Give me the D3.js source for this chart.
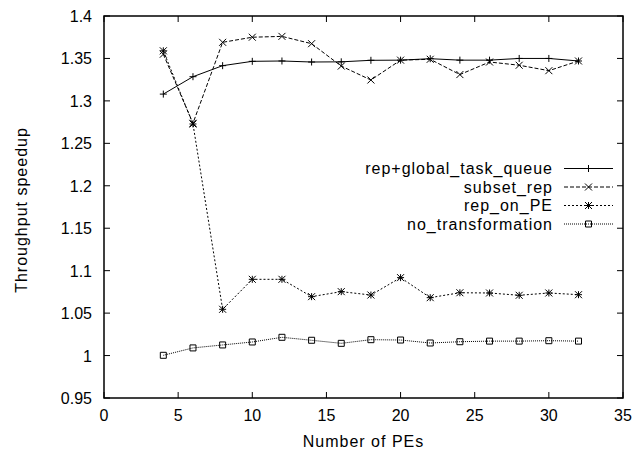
<!DOCTYPE html>
<html>
<head>
<meta charset="utf-8">
<title>Throughput speedup</title>
<script src="https://d3js.org/d3.v7.min.js"></script>
<style>
  body { margin: 0; background: #fff; }
  text { font-family: "Liberation Sans", Arial, sans-serif; fill: #000; font-size: 16px; }
  .word { letter-spacing: 1px; }
</style>
</head>
<body>
<script>
// data
var pes = [4, 6, 8, 10, 12, 14, 16, 18, 20, 22, 24, 26, 28, 30, 32];
var repGlobal = [1.308, 1.3285, 1.3415, 1.3466, 1.347, 1.3458, 1.346, 1.3478, 1.348, 1.3497, 1.348, 1.348, 1.350, 1.350, 1.347];
var subsetRep = [1.355, 1.2736, 1.369, 1.375, 1.376, 1.3674, 1.341, 1.3246, 1.348, 1.349, 1.331, 1.3458, 1.342, 1.3356, 1.347];
var repOnPE = [1.359, 1.2728, 1.0545, 1.0898, 1.0898, 1.0694, 1.0753, 1.0713, 1.0918, 1.0682, 1.074, 1.0737, 1.071, 1.0737, 1.0717];
var noTransf = [1.0003, 1.009, 1.0125, 1.016, 1.0215, 1.018, 1.0144, 1.0187, 1.0183, 1.0148, 1.0163, 1.017, 1.017, 1.0175, 1.017];
var seriesNames = ["rep+global_task_queue", "subset_rep", "rep_on_PE", "no_transformation"];
var xTicks = [0, 5, 10, 15, 20, 25, 30, 35];
var yTicks = [0.95, 1, 1.05, 1.1, 1.15, 1.2, 1.25, 1.3, 1.35, 1.4];

var W = 637, H = 450;
var m = {left: 104, right: 14, top: 16, bottom: 52};

var svg = d3.select("body").append("svg")
    .attr("width", W).attr("height", H);

var x = d3.scaleLinear().domain([0, 35]).range([m.left, W - m.right]);
var y = d3.scaleLinear().domain([0.95, 1.4]).range([H - m.bottom, m.top]);

var series = [
  {name: seriesNames[0], vals: repGlobal, dash: null, mark: "plus"},
  {name: seriesNames[1], vals: subsetRep, dash: "4,2", mark: "cross"},
  {name: seriesNames[2], vals: repOnPE, dash: "2,2", mark: "star"},
  {name: seriesNames[3], vals: noTransf, dash: "1,1", mark: "square"}
];

// ticks, inward and mirrored like gnuplot
var tl = 6;
var g = svg.append("g");
xTicks.forEach(function(t) {
  g.append("line").attr("x1", x(t)).attr("x2", x(t))
    .attr("y1", y(0.95)).attr("y2", y(0.95) - tl).attr("stroke", "#000");
  g.append("line").attr("x1", x(t)).attr("x2", x(t))
    .attr("y1", y(1.4)).attr("y2", y(1.4) + tl).attr("stroke", "#000");
  g.append("text").attr("x", x(t)).attr("y", y(0.95) + 22.5)
    .attr("text-anchor", "middle").text(t);
});
yTicks.forEach(function(t) {
  g.append("line").attr("x1", x(0)).attr("x2", x(0) + tl)
    .attr("y1", y(t)).attr("y2", y(t)).attr("stroke", "#000");
  g.append("line").attr("x1", x(35)).attr("x2", x(35) - tl)
    .attr("y1", y(t)).attr("y2", y(t)).attr("stroke", "#000");
  g.append("text").attr("x", x(0) - 12).attr("y", y(t) + 6)
    .attr("text-anchor", "end").text(t);
});

svg.append("rect").attr("x", x(0)).attr("y", y(1.4))
  .attr("width", x(35) - x(0)).attr("height", y(0.95) - y(1.4))
  .attr("fill", "none").attr("stroke", "#000").attr("stroke-width", 1.5);

svg.append("text").attr("class", "word")
  .attr("x", (x(0) + x(35)) / 2).attr("y", H - 3)
  .attr("text-anchor", "middle").text("Number of PEs");
svg.append("text").attr("class", "word")
  .attr("transform", "translate(27," + ((y(0.95) + y(1.4)) / 2 + 3) + ") rotate(-90)")
  .attr("text-anchor", "middle").text("Throughput speedup");

function drawMark(sel, type, cx, cy) {
  var s = 3.5;
  var p = d3.path();
  if (type == "plus" || type == "star") {
    p.moveTo(cx - s, cy); p.lineTo(cx + s, cy);
    p.moveTo(cx, cy - s); p.lineTo(cx, cy + s);
  }
  if (type == "cross" || type == "star") {
    p.moveTo(cx - s, cy - s); p.lineTo(cx + s, cy + s);
    p.moveTo(cx - s, cy + s); p.lineTo(cx + s, cy - s);
  }
  if (type == "square") {
    p.rect(cx - 3, cy - 3, 6, 6);
  }
  sel.append("path").attr("d", p.toString())
    .attr("fill", "none").attr("stroke", "#000").attr("stroke-width", 1);
}

var line = d3.line()
  .x(function(d) { return x(d[0]); })
  .y(function(d) { return y(d[1]); });

series.forEach(function(s) {
  var pts = pes.map(function(p, i) { return [p, s.vals[i]]; });
  svg.append("path").datum(pts).attr("d", line)
    .attr("fill", "none").attr("stroke", "#000").attr("stroke-width", 1)
    .attr("stroke-dasharray", s.dash);
  var mg = svg.append("g");
  pts.forEach(function(d) { drawMark(mg, s.mark, x(d[0]), y(d[1])); });
});

// legend
var lx = 553, ly = 168.5, ls = 18.5;
series.forEach(function(s, i) {
  var yy = ly + i * ls;
  svg.append("text").attr("class", "word").attr("x", lx).attr("y", yy + 5.5)
    .attr("text-anchor", "end").text(s.name);
  svg.append("line").attr("x1", 564).attr("x2", 613)
    .attr("y1", yy).attr("y2", yy).attr("stroke", "#000")
    .attr("stroke-dasharray", s.dash);
  drawMark(svg, s.mark, 588.5, yy);
});
</script>
</body>
</html>
